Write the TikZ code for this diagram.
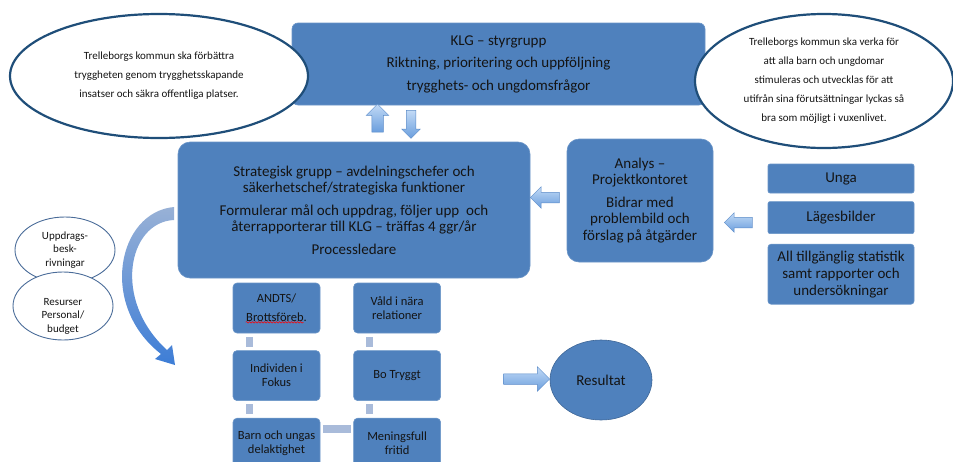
\documentclass[tikz,border=0pt]{standalone}
\usepackage{fontspec}
\setmainfont{Carlito}
\usetikzlibrary{positioning, calc, shapes.geometric, shapes.arrows, decorations.pathmorphing}
\definecolor{boxblue}{HTML}{4F81BD}
\definecolor{rimblue}{HTML}{1F4E79}
\definecolor{thinrim}{HTML}{4A6C99}
\definecolor{linkblue}{HTML}{A9BBDA}
\definecolor{arrowtop}{HTML}{C2DAF6}
\definecolor{arrowbot}{HTML}{6A9EDD}
\definecolor{arrowrim}{HTML}{5B8BC8}
\definecolor{curvetop}{HTML}{98B1D6}
\definecolor{curvebot}{HTML}{3D7DD6}
\definecolor{inktext}{HTML}{141414}
\tikzset{
x=1pt, y=-1pt, % one unit per pixel of the sketch, y runs downwards
bluebox/.style={rectangle, rounded corners=12pt, fill=boxblue, draw=boxblue!85!white, line width=0.6pt, text=inktext, align=center, inner sep=2pt}, % the filled blue boxes
smallbox/.style={bluebox, rounded corners=4pt, minimum width=87pt, minimum height=50pt, font=\fontsize{12.5}{14}\selectfont}, % the six focus areas
bigell/.style={ellipse, draw=rimblue, line width=2.2pt, fill=white, text=inktext, align=center, inner sep=0pt, font=\fontsize{11}{19}\selectfont}, % goal ellipses
smallell/.style={ellipse, draw=thinrim, line width=0.9pt, fill=white, text=inktext, align=center, inner sep=0pt, minimum width=100pt, font=\fontsize{11}{13.5}\selectfont}, % input ellipses
fatarrow/.style={single arrow, top color=arrowtop, bottom color=arrowbot, draw=arrowrim, line width=0.5pt, single arrow head extend=5pt, inner sep=5pt, minimum height=28pt}, % block arrows
link/.style={draw=linkblue, line width=7pt, shorten <=3.5pt, shorten >=3.5pt}, % short bars between focus areas
}
\begin{document}
\begin{tikzpicture}
    \useasboundingbox (0,0) rectangle (953,461);
    \clip (0,0) rectangle (953,461);

    % top level
    \node[bluebox, rounded corners=6pt, minimum width=413pt, minimum height=82pt, font=\fontsize{15}{22.5}\selectfont] (klg) at (498.5,64)
        {KLG -- styrgrupp\\ Riktning, prioritering och uppföljning\\ trygghets- och ungdomsfrågor};
    \node[bigell, minimum width=298pt, minimum height=124pt] (leftell) at (159,76)
        {Trelleborgs kommun ska förbättra\\ tryggheten genom trygghetsskapande\\ insatser och säkra offentliga platser.};
    \node[bigell, minimum width=258pt, minimum height=134pt] (rightell) at (824,81)
        {Trelleborgs kommun ska verka för\\ att alla barn och ungdomar\\ stimuleras och utvecklas för att\\ utifrån sina förutsättningar lyckas så\\ bra som möjligt i vuxenlivet.};
    \node[fatarrow, shape border rotate=90, inner sep=5.5pt, single arrow head extend=5.5pt] (uparrow) at (377.5,121) {};
    \node[fatarrow, shape border rotate=270, inner sep=4.5pt, single arrow head extend=4.5pt] (downarrow) at (411,122) {};

    % middle level
    \node[bluebox, minimum width=352pt, minimum height=136pt, font=\fontsize{15}{16.5}\selectfont] (strat) at (354,210)
        {Strategisk grupp -- avdelningschefer och\\ säkerhetschef/strategiska funktioner\\[6pt]
         Formulerar mål och uppdrag, följer upp \ och\\ återrapporterar till KLG -- träffas 4 ggr/år\\[6pt] Processledare};
    \node[bluebox, minimum width=146pt, minimum height=123pt, font=\fontsize{15}{16.5}\selectfont] (analys) at (640,200.5)
        {Analys --\\ Projektkontoret\\[6pt] Bidrar med\\ problembild och\\ förslag på åtgärder};
    \node[fatarrow, shape border rotate=180, single arrow head extend=5.5pt, minimum height=29pt] (toStrat) at (547.5,197.5) {};
    \node[bluebox, rounded corners=2pt, minimum width=146pt, minimum height=29pt, font=\fontsize{15}{17}\selectfont] (unga) at (841,178.5) {Unga};
    \node[bluebox, rounded corners=2pt, minimum width=146pt, minimum height=32pt, font=\fontsize{15}{17}\selectfont, below=8pt of unga] (lage) {Lägesbilder};
    \node[bluebox, rounded corners=3pt, minimum width=146pt, minimum height=60pt, font=\fontsize{15}{17}\selectfont, below=10pt of lage] (stat)
        {All tillgänglig statistik\\ samt rapporter och\\ undersökningar};
    \node[fatarrow, shape border rotate=180, single arrow head extend=4.5pt] (toAnalys) at (741,222.5) {};

    % inputs and the bent arrow
    \node[smallell, minimum height=66pt] (uppdrag) at (65,250) {Uppdrags-\\ besk-\\ rivningar};
    \node[smallell, minimum height=68pt] (resurser) at (63,306) {};
    \node[text=inktext, align=center, font=\fontsize{11}{13.5}\selectfont] (resurstext) at (63,316) {Resurser\\ Personal/\\ budget};
    \shade[top color=curvetop, bottom color=curvebot]
        (174,207) .. controls (118,212) and (98,305) .. (161,354) -- (155,359) -- (175,365) -- (172,345) -- (167,350)
        .. controls (112,300) and (128,222) .. (174,220) -- cycle;

    % focus areas
    \node[smallbox, font=\fontsize{12.5}{19}\selectfont] (andts) at (276.5,308) {ANDTS/\\ Brottsföreb.};
    \node[smallbox, right=33pt of andts] (vald) {Våld i nära\\ relationer};
    \node[smallbox, below=17pt of andts] (indiv) {Individen i\\ Fokus};
    \node[smallbox, below=17pt of vald] (botrygg) {Bo Tryggt};
    \node[smallbox, below=17pt of indiv] (barn) {Barn och ungas\\ delaktighet};
    \node[smallbox, below=17pt of botrygg] (fritid) {Meningsfull\\ fritid};
    \draw[red, line width=0.5pt, decorate, decoration={snake, amplitude=0.8pt, segment length=3pt}]
        ($(andts.south west)+(13,-11)$) -- ++(58,0);
    \draw[link] ([xshift=16.5pt]andts.south west) -- ([xshift=16.5pt]indiv.north west);
    \draw[link] ([xshift=16.5pt]indiv.south west) -- ([xshift=16.5pt]barn.north west);
    \draw[link] ([xshift=16.5pt]vald.south west) -- ([xshift=16.5pt]botrygg.north west);
    \draw[link] ([xshift=16.5pt]botrygg.south west) -- ([xshift=16.5pt]fritid.north west);
    \draw[link, line width=8pt, shorten <=2.5pt, shorten >=2.5pt] ([yshift=-11pt]barn.north east) -- ([yshift=-11pt]fritid.north west);

    % result
    \node[ellipse, fill=boxblue, draw=boxblue!80!black, line width=0.6pt, minimum width=102pt, minimum height=80pt, text=inktext, font=\fontsize{15}{17}\selectfont] (resultat) at (601,380) {Resultat};
    \node[fatarrow, shape border rotate=0, single arrow head extend=7pt, minimum height=46pt] (toResultat) at (524,379) {};
\end{tikzpicture}
\end{document}
